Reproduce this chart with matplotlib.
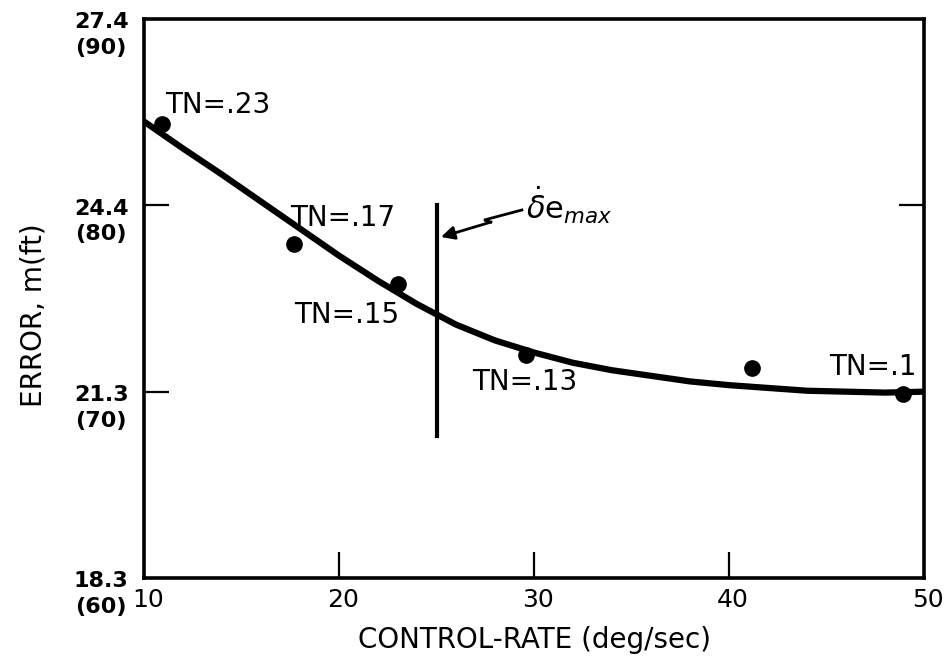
import matplotlib
matplotlib.use("Agg")
import matplotlib.pyplot as plt
import matplotlib.transforms as mtransforms

plt.rcParams["font.family"] = ["DejaVu Sans"]
plt.rcParams["mathtext.fontset"] = "dejavusans"

# measured points (control rate in deg/sec, error in ft)
rate = [10.9, 17.7, 23.0, 29.6, 41.2, 48.9]
err_ft = [84.35, 77.9, 75.8, 71.95, 71.25, 69.9]

# faired curve
curve_rate = [10, 12, 14, 16, 18, 20, 22, 24, 26, 28, 30, 32, 34, 36, 38, 40, 42, 44, 46, 48, 50]
curve_ft = [84.5, 83.05, 81.65, 80.2, 78.75, 77.3, 75.95, 74.7, 73.6, 72.75, 72.1,
            71.55, 71.15, 70.85, 70.55, 70.35, 70.2, 70.05, 70.0, 69.95, 70.0]

# TN labels and where they sit
tn_text = ["TN=.23", "TN=.17", "TN=.15", "TN=.13", "TN=.1"]
tn_x = [13.8, 20.2, 20.4, 29.5, 47.4]
tn_y = [85.4, 79.3, 74.1, 70.5, 71.3]

# max control rate line
de_max = 25.0
de_span = [67.6, 80.0]

x_ticks = [10, 20, 30, 40, 50]
y_ticks_ft = [60, 70, 80, 90]
y_ticks_m = ["18.3", "21.3", "24.4", "27.4"]

fig = plt.figure(figsize=(9.49, 6.63), dpi=100)
ax = fig.add_axes([144 / 949, 1 - 578 / 663, 780 / 949, 559 / 663])

ax.plot(curve_rate, curve_ft, color="black", lw=4.5, solid_capstyle="butt",
        solid_joinstyle="round", zorder=3)
ax.plot(rate, err_ft, "o", color="black", ms=11, zorder=4)
ax.plot([de_max, de_max], de_span, color="black", lw=3, zorder=3)

for t, x, y in zip(tn_text, tn_x, tn_y):
    ax.text(x, y, t, fontsize=20, ha="center", va="center")

# the little zigzag pointer to the delta-e max line
ax.plot([29.38, 27.44, 27.79], [79.75, 79.21, 79.10], color="black", lw=2,
        solid_joinstyle="miter")
ax.annotate("", xy=(de_max + 0.23, 78.3), xytext=(27.79, 79.10),
            arrowprops=dict(arrowstyle="-|>", color="black", lw=2, mutation_scale=20,
                            shrinkA=0, shrinkB=0))
ax.text(29.6, 80.0, r"$\dot{\delta}\mathrm{e}_{max}$", fontsize=22, ha="left", va="center")

ax.set_xlim(10, 50)
ax.set_ylim(60, 90)
ax.set_xticks(x_ticks[1:-1])
ax.set_xticklabels([])
ax.set_yticks(y_ticks_ft[1:-1])
ax.set_yticklabels([])
ax.tick_params(axis="x", direction="in", length=19, width=1.6, top=False)
ax.tick_params(axis="y", direction="in", length=18, width=1.6, right=True)
for s in ax.spines.values():
    s.set_linewidth(2.6)

# tick labels drawn as text so the stacked metric/ft pairs line up like the original
xt = mtransforms.blended_transform_factory(ax.transData, ax.transAxes)
xt = xt + mtransforms.ScaledTranslation(4 / 100, 0, fig.dpi_scale_trans)
for v in x_ticks:
    ax.text(v, -0.018, str(v), transform=xt, fontsize=18, ha="center", va="top")
yt = mtransforms.blended_transform_factory(ax.transAxes, ax.transData)
for ft, m in zip(y_ticks_ft, y_ticks_m):
    ax.text(-0.02, ft + 0.35, f"{m}\n({ft})", transform=yt, fontsize=16,
            fontweight="bold", ha="right", va="top", multialignment="center",
            linespacing=1.35)

ax.text(0.5, -0.085, "CONTROL-RATE (deg/sec)", transform=ax.transAxes,
        fontsize=20, ha="center", va="top")
ax.text(-0.142, 0.47, "ERROR, m(ft)", transform=ax.transAxes, rotation=90,
        fontsize=20, ha="center", va="center")

fig.savefig("out.png", dpi=100)
